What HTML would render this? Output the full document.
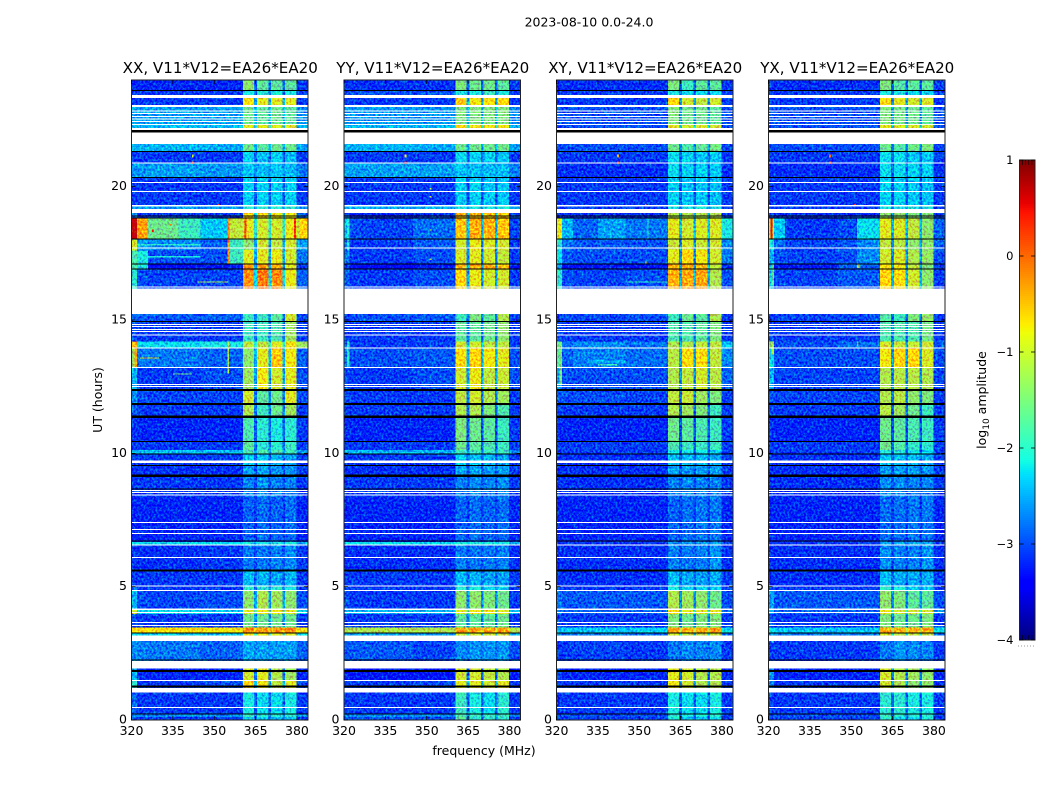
<!DOCTYPE html>
<html lang="en">
<head>
<meta charset="utf-8">
<title>2023-08-10 0.0-24.0</title>
<style>
html,body{margin:0;padding:0;background:#fff;}
svg{display:block;}
text{font-family:"DejaVu Sans","Liberation Sans",sans-serif;fill:#000;}
</style>
</head>
<body>
<svg id="chart" xmlns="http://www.w3.org/2000/svg" width="1050" height="800" viewBox="0 0 1050 800">
  <defs>
    <filter id="channel-noise" x="0" y="0" width="1" height="1" color-interpolation-filters="sRGB">
      <feTurbulence type="fractalNoise" baseFrequency="0.5 0.42" numOctaves="2" seed="7" result="n"/>
      <feColorMatrix in="n" type="matrix" values="0 0 0 0 .5  1.6 0 0 0 -.4  0 .8 0 0 .1  0 0 0 0 1" result="g"/>
      <feComposite in="SourceGraphic" in2="g" operator="arithmetic" k1="0" k2="1" k3="0.8" k4="-0.4"/>
    </filter>
  </defs>
  <rect x="0" y="0" width="1050" height="800" fill="#fff"/>
  <text x="589" y="26.5" font-size="12.5" text-anchor="middle">2023-08-10 0.0-24.0</text>
  <text x="484" y="755" font-size="12.5" text-anchor="middle">frequency (MHz)</text>
  <text x="0" y="0" font-size="12.5" text-anchor="middle" transform="translate(102,400) rotate(-90)">UT (hours)</text>
  <text x="0" y="0" font-size="12.5" text-anchor="middle" transform="translate(986,400) rotate(-90)">log<tspan font-size="9" dy="3">10</tspan><tspan dy="-3"> amplitude</tspan></text>
  <g id="panels"></g>
  <g id="colorbar"></g>
</svg>
<script>
// Axis data
const freqTicks = [320, 335, 350, 365, 380];
const hourTicks = [0, 5, 10, 15, 20];
const colorbarTicks = [1, 0, -1, -2, -3, -4];
const colorbarMinorTicks = [0.99, -3.99];
const panelTitles = ['XX, V11*V12=EA26*EA20', 'YY, V11*V12=EA26*EA20', 'XY, V11*V12=EA26*EA20', 'YX, V11*V12=EA26*EA20'];

// Frequency column edges (MHz): left edge, low band x3, four pass bands split by notches, right band
const freqEdges = [320, 322, 326, 345, 360.5, 364.4, 365.5, 369.6, 370.6, 374.7, 375.7, 379.8, 384];
// Time band edges (UT hours)
const bandEdges = [0,.12,.24,1.2,1.5,2.21,3.16,3.27,3.46,3.98,4.17,4.84,5.02,5.6,6.56,6.68,8.36,9.16,9.55,9.96,10.12,10.44,11.37,11.85,12.37,13.2,13.95,14.2,14.93,16.18,16.91,17.1,17.63,18.04,18.83,19.09,19.25,20.34,20.89,21.32,22.2,22.31,23.06,23.44,23.6,24];

// Flagged or missing integrations, same in all panels (UT hours)
const whiteGaps = [[1.024,1.2],[1.939,2.213],[2.963,3.161],[4.125,4.174],[9.64,9.73],[15.225,16.181],[19.013,19.163],[19.249,19.313],[21.6,22.024],[22.125,22.2],[22.987,23.062],[23.325,23.438]];
const whiteLines = [.476,1.489,3.536,3.664,4.024,4.864,5.025,6.101,6.563,7.001,7.151,7.414,8.438,8.524,8.599,12.499,12.574,13.226,13.95,14.438,14.561,14.651,14.756,14.839,16.238,17.7,19.826,20.149,20.888,22.324,22.451,22.538,22.639,22.736,22.838];
const blackLines = [.225,2.25,3.26,6.71,8.66,9.55,9.975,10.44,14.94,16.91,17.1,18.04,18.825,18.9,20.34,21.32,23.61];
const blackThickLines = [1.25,1.84,5.6,9.16,11.37,11.85,12.37];
const blackGaps = [[22.024,22.125]];

// log10 amplitude per band: edge, low1, low2, low3, pass1, pass2, pass3, pass4, notch, right
const xxCells = [
[-3,-3,-3,-3,-2.2,-2.3,-2.4,-2.3,-2.8,-3],
[-2.6,-2.6,-2.6,-2.6,-1.9,-2,-2,-2,-2.6,-2.6],
[-2.8,-3,-3,-3,-2.1,-2.2,-2.2,-2.1,-2.8,-3],
[-2,-3,-3,-2.9,-.7,-.8,-1.1,-.9,-2.4,-2.9],
[-2.4,-3.1,-3.1,-3.1,-1,-.9,-1.2,-1.3,-2.7,-3.1],
[-2.6,-2.65,-2.7,-2.8,-2.45,-2.5,-2.5,-2.5,-2.6,-2.8],
[-2.2,-2.2,-2.2,-2.3,-.8,-.8,-.9,-.9,-1.8,-2.2],
[-.7,-.7,-.75,-.8,-.3,-.35,-.35,-.3,-.6,-.8],
[-2.9,-3,-3,-3,-1.6,-1.6,-1.6,-1.6,-2.6,-3],
[-1,-2.3,-2.2,-2.3,-.9,-.8,-.8,-.9,-1.7,-2.2],
[-2.4,-2.9,-2.95,-2.9,-1.4,-1.2,-1.3,-1.4,-2.5,-2.9],
[-2.7,-3,-3,-3,-2,-2,-2,-2.1,-2.7,-3],
[-3,-3,-3,-3,-2.35,-2.4,-2.5,-2.4,-2.8,-3],
[-3,-3.05,-3.05,-3,-2.7,-2.7,-2.65,-2.6,-2.9,-3],
[-2.2,-2.2,-2.2,-2.25,-2.1,-2.1,-2.1,-2.1,-2.3,-2.4],
[-3.1,-3.1,-3.1,-3.1,-2.8,-2.75,-2.8,-2.75,-3,-3.1],
[-3,-3,-3,-3,-2.65,-2.55,-2.65,-2.65,-2.9,-3],
[-3.05,-3.05,-3.05,-3.05,-2.45,-2.45,-2.55,-2.55,-2.9,-3],
[-3,-3,-3,-3,-2.25,-2.3,-2.4,-2.5,-2.8,-3],
[-2.35,-2.35,-2.35,-2.35,-1.8,-1.8,-1.8,-1.9,-2.4,-2.5],
[-3,-3,-3,-3,-1.7,-2,-2,-1.9,-2.7,-3],
[-3,-3.1,-3.1,-3.1,-1.8,-2,-2.1,-2,-2.8,-3],
[-2.8,-3,-3,-3,-1.2,-1.9,-1.6,-1.3,-2.7,-3],
[-2.6,-2.9,-2.95,-2.95,-1,-1.7,-1.6,-.9,-2.7,-2.9],
[-2.4,-3,-3,-2.9,-1.3,-.8,-1,-.9,-2.5,-2.9],
[-1.4,-2.7,-2.7,-2.8,-1.4,-.9,-.6,-.8,-2.4,-2.8],
[-.7,-2.2,-2.2,-2.1,-1.1,-1.1,-.9,-.8,-2,-1.3],
[-2.9,-3,-3,-3,-1.9,-1.9,-1.8,-1.3,-2.7,-3],
[-2.8,-2.8,-2.85,-2.8,-1.9,-1.9,-1.7,-1,-2.7,-2.9],
[-2,-2.9,-2.95,-2.95,-.3,-.2,-.3,-.85,-2.2,-2.8],
[-1.8,-3.2,-3.3,-3.2,-.4,-.35,-.5,-.9,-2.4,-3],
[-1.8,-2.8,-2.9,-2.9,-.9,-.9,-.85,-1,-2.5,-2.7],
[-1.5,-2.5,-2.6,-2.8,-1.4,-1,-1.1,-1,-2.5,-2.5],
[.7,-.4,-1.9,-2.3,-.9,-1,-1,-.85,-2,-1.1],
[-2.6,-3,-3,-3,-.7,-.7,-.8,-.8,-2.2,-2.8],
[-2.5,-2.5,-2.5,-2.5,-2,-2,-2,-2,-2.5,-2.6],
[-3,-3,-3,-3,-2.25,-2.25,-2.25,-2.25,-2.9,-3],
[-2.55,-2.55,-2.5,-2.55,-2.3,-2.35,-2.3,-2.35,-2.55,-2.7],
[-3,-3,-3,-3,-2.25,-2.35,-2.25,-2.35,-2.8,-3],
[-2.4,-2.4,-2.4,-2.45,-1.6,-1.7,-1.6,-1.6,-2.4,-2.5],
[-2.35,-2.35,-2.35,-2.35,-.9,-.9,-.9,-.9,-2,-2.4],
[-2.5,-2.5,-2.5,-2.5,-1.6,-1.7,-1.6,-1.7,-2.4,-2.6],
[-3,-3,-3,-3,-.75,-.9,-.9,-.9,-2.4,-3],
[-3,-3,-3,-3,-2.1,-2.05,-2.1,-2.1,-2.7,-3],
[-3.1,-3.1,-3.1,-3.1,-1.4,-1.7,-1.7,-1.7,-2.8,-3]
];
const yyCells = [
[-2.9,-2.9,-2.9,-2.9,-1.7,-2,-2,-2,-2.8,-3],
[-2.6,-2.6,-2.6,-2.6,-1.8,-1.9,-1.9,-1.9,-2.6,-2.7],
[-3,-3,-3,-3,-1.9,-2.1,-2.2,-2,-2.8,-3],
[-3,-3,-3,-2.9,-.9,-.9,-1,-.9,-2.4,-3],
[-3.1,-3.2,-3.2,-3.2,-1,-1,-1.1,-1.2,-2.8,-3.2],
[-2.85,-2.85,-2.85,-2.95,-2.6,-2.55,-2.55,-2.55,-2.75,-2.9],
[-2.5,-2.5,-2.5,-2.5,-1,-1,-1,-1,-2,-2.4],
[-1.2,-1.2,-1.2,-1.2,-.4,-.4,-.45,-.4,-.9,-1.2],
[-3,-3,-3,-3,-1.7,-1.7,-1.7,-1.6,-2.7,-3],
[-2.4,-2.4,-2.4,-2.4,-.9,-.8,-.8,-.9,-1.8,-2.4],
[-2.9,-3,-3,-3,-1.4,-1.4,-1.5,-1.6,-2.6,-3],
[-2.9,-3,-3,-3,-2,-2.1,-2.2,-2.2,-2.7,-3],
[-3,-3,-3,-3,-2.35,-2.4,-2.5,-2.5,-2.8,-3],
[-3.05,-3.05,-3.05,-3.05,-2.65,-2.7,-2.7,-2.65,-2.9,-3.05],
[-2.2,-2.2,-2.2,-2.25,-2.1,-2.1,-2.1,-2.1,-2.3,-2.4],
[-3.1,-3.1,-3.1,-3.1,-2.8,-2.75,-2.8,-2.75,-3,-3.1],
[-3,-3,-3,-3,-2.65,-2.6,-2.65,-2.6,-2.9,-3],
[-3.05,-3.05,-3.05,-3.05,-2.45,-2.45,-2.5,-2.5,-2.9,-3],
[-3,-3,-3,-3,-2.25,-2.3,-2.4,-2.5,-2.8,-3],
[-2.4,-2.4,-2.4,-2.4,-1.9,-1.9,-1.9,-1.9,-2.5,-2.6],
[-3,-3,-3,-3,-1.6,-1.7,-1.8,-1.9,-2.8,-3],
[-3.05,-3.1,-3.1,-3.1,-1.5,-1.6,-1.7,-1.9,-2.9,-3],
[-3,-3,-3,-3,-1.2,-1.2,-1.5,-1.8,-2.8,-3],
[-2.9,-3,-3,-3,-1.1,-1,-1.2,-1.3,-2.7,-3],
[-2.9,-3,-3,-2.9,-1,-.85,-1.1,-1.05,-2.5,-2.9],
[-2.7,-2.9,-2.9,-2.85,-.75,-.7,-.8,-.9,-2.4,-2.9],
[-2.7,-3,-3,-2.95,-1,-1,-1.1,-1.1,-2.4,-3],
[-3,-3,-3,-3,-1.7,-1.7,-1.6,-1.4,-2.7,-3],
[-2.95,-2.9,-2.9,-2.85,-1.9,-1.5,-1.7,-1.2,-2.7,-3],
[-2.8,-3,-3,-2.9,-.7,-.85,-1,-1,-2.5,-3],
[-3,-3.2,-3.3,-3.2,-.5,-.5,-.5,-.6,-2.5,-3.2],
[-2.7,-3,-3,-2.9,-.95,-.9,-1,-1.1,-2.6,-3],
[-2.7,-3,-3,-2.85,-1,-.85,-.95,-1,-2.6,-3],
[-2.3,-2.9,-2.95,-2.75,-.6,-.5,-.5,-.6,-2.4,-2.95],
[-3,-3.1,-3.1,-3,-.5,-.5,-.6,-.7,-2.4,-3],
[-2.4,-2.4,-2.4,-2.4,-2.1,-2.1,-2.1,-2.1,-2.4,-2.5],
[-3,-3,-3,-3,-2.25,-2.25,-2.3,-2.3,-2.9,-3],
[-2.5,-2.5,-2.5,-2.5,-2.3,-2.35,-2.35,-2.35,-2.5,-2.65],
[-3,-3,-3,-3,-2.2,-2.25,-2.25,-2.3,-2.8,-3],
[-2.4,-2.4,-2.4,-2.45,-1.6,-1.6,-1.6,-1.6,-2.4,-2.5],
[-2.4,-2.4,-2.4,-2.4,-.7,-.8,-.8,-.8,-2,-2.4],
[-2.55,-2.55,-2.55,-2.55,-1.5,-1.5,-1.5,-1.5,-2.4,-2.6],
[-3,-3,-3,-3,-.65,-.8,-.75,-.7,-2.4,-3],
[-2.9,-2.9,-2.9,-2.9,-2.1,-2.1,-1.9,-2.1,-2.7,-3],
[-3.05,-3.05,-3.05,-3.05,-1.5,-1.6,-1.6,-1.7,-2.8,-3]
];
const xyCells = [
[-3,-3,-3,-3,-2.1,-2.3,-2.3,-2.2,-2.8,-3],
[-2.9,-2.9,-2.9,-2.9,-2,-2.1,-2.1,-2,-2.8,-3],
[-3,-3,-3,-3,-2.1,-2.2,-2.2,-2.1,-2.8,-3],
[-2.9,-3,-3,-3,-.8,-1,-1.2,-1.2,-2.5,-3],
[-2.9,-3.1,-3.1,-3.1,-.9,-1,-1.2,-1.2,-2.8,-3.1],
[-3,-3,-2.95,-3,-2.7,-2.6,-2.65,-2.6,-2.8,-3],
[-2.7,-2.7,-2.7,-2.7,-1,-1.1,-1.1,-1.1,-2.2,-2.7],
[-2.3,-2.3,-2.3,-2.3,-.4,-.5,-.5,-.4,-1.1,-2.2],
[-2.95,-3,-3,-3,-1.5,-1.6,-1.5,-1.5,-2.7,-3],
[-2.6,-2.8,-2.8,-2.8,-.75,-.9,-.9,-.9,-2,-2.7],
[-2.7,-2.85,-2.85,-2.85,-1.2,-1.3,-1.4,-1.6,-2.6,-2.9],
[-2.9,-3,-3,-3,-2.1,-2.2,-2.2,-2.3,-2.7,-3],
[-3.05,-3.05,-3.05,-3.05,-2.35,-2.45,-2.5,-2.45,-2.8,-3],
[-3.05,-3.05,-3.05,-3.05,-2.65,-2.7,-2.65,-2.55,-2.9,-3.05],
[-3,-3,-3,-3,-2.5,-2.5,-2.5,-2.5,-2.8,-3],
[-3.1,-3.1,-3.1,-3.1,-2.8,-2.75,-2.7,-2.7,-3,-3.1],
[-3.05,-3.05,-3.05,-3.05,-2.65,-2.6,-2.65,-2.65,-2.9,-3],
[-3.05,-3.05,-3.05,-3.05,-2.5,-2.55,-2.5,-2.5,-2.9,-3],
[-3.05,-3.05,-3.05,-3.05,-2.35,-2.35,-2.35,-2.45,-2.8,-3],
[-3,-3,-3,-3,-2.15,-2.15,-2.15,-2.25,-2.8,-3],
[-3,-3,-3,-3,-1.8,-1.9,-1.9,-1.9,-2.8,-3],
[-3.05,-3.1,-3.1,-3.1,-1.6,-1.7,-1.8,-1.9,-2.9,-3],
[-2.95,-3,-3,-3,-1.2,-1.3,-1.5,-1.9,-2.8,-3],
[-2.85,-2.9,-2.9,-2.95,-1.1,-1.05,-1.3,-1.5,-2.7,-3],
[-2.5,-2.9,-2.9,-2.9,-1.2,-1.1,-1,-1.15,-2.6,-2.8],
[-1.7,-2.8,-2.65,-2.75,-1.15,-.75,-.75,-1.1,-2.5,-2.6],
[-1.6,-2.7,-2.6,-2.7,-1.2,-1.2,-1.1,-1.1,-2.5,-2.3],
[-2.9,-3,-3,-3,-1.8,-1.8,-1.7,-1.5,-2.7,-3],
[-3,-2.9,-2.95,-2.9,-1.9,-1.6,-1.7,-1.2,-2.8,-3],
[-2,-2.9,-2.95,-2.9,-.5,-.45,-.45,-1.2,-2.4,-2.9],
[-2.5,-3.2,-3.2,-3.2,-.45,-.45,-.55,-1.1,-2.5,-3],
[-2.2,-2.85,-2.9,-2.9,-.9,-.7,-.8,-1,-2.6,-2.7],
[-2,-2.7,-2.85,-2.9,-1.05,-.95,-1.05,-1,-2.6,-2.6],
[-.9,-2.4,-2.8,-2.7,-.9,-1,-.95,-.95,-2.3,-2.1],
[-3,-3.05,-3.05,-3.05,-1.2,-1.2,-1.2,-1.2,-2.5,-2.95],
[-3,-3,-3,-3,-2.1,-2.1,-2.1,-2.1,-2.6,-3],
[-3,-3,-3,-3,-2.25,-2.3,-2.3,-2.35,-2.9,-3],
[-3.05,-3.05,-3.05,-3.05,-2.2,-2.25,-2.25,-2.3,-2.8,-3.05],
[-3,-3,-3,-3,-2.2,-2.25,-2.3,-2.3,-2.8,-3],
[-2.9,-2.9,-2.9,-2.9,-1.6,-1.8,-1.65,-1.55,-2.6,-2.95],
[-2.9,-2.9,-2.9,-2.9,-.9,-1,-.95,-1,-2.2,-2.9],
[-2.85,-2.9,-2.9,-2.9,-1.5,-1.6,-1.6,-1.7,-2.6,-2.9],
[-3,-3,-3,-3,-.7,-1,-1.1,-1,-2.5,-3],
[-3,-3,-3,-3,-2.1,-2.2,-2.2,-2.2,-2.8,-3],
[-3.05,-3.05,-3.05,-3.05,-1.5,-1.9,-1.7,-1.7,-2.8,-3]
];
const yxCells = [
[-3,-3,-3,-3,-2,-2.2,-2.2,-2.1,-2.8,-3],
[-2.9,-2.9,-2.9,-2.9,-1.9,-2,-2,-2,-2.8,-3],
[-3,-3,-3,-3,-2,-2,-2.1,-2.1,-2.8,-3],
[-2.6,-3,-3,-3,-1,-1.2,-1.4,-1.4,-2.5,-3],
[-2.6,-3.1,-3.1,-3.1,-1,-1.2,-1.3,-1.4,-2.7,-3.1],
[-3,-3,-3,-3,-2.7,-2.55,-2.6,-2.65,-2.8,-3],
[-2.6,-2.7,-2.7,-2.7,-1,-1.1,-1.1,-1.1,-2.2,-2.7],
[-2.2,-2.3,-2.3,-2.3,-.45,-.5,-.5,-.45,-1.1,-2.2],
[-2.9,-3,-3,-3,-1.5,-1.6,-1.6,-1.5,-2.7,-3],
[-2.4,-2.8,-2.8,-2.8,-.85,-1,-1,-1,-2,-2.6],
[-2.5,-2.85,-2.85,-2.85,-1.4,-1.5,-1.7,-1.7,-2.6,-2.9],
[-2.8,-3,-3,-3,-2,-2.1,-2.25,-2.3,-2.7,-3],
[-3.05,-3.05,-3.05,-3.05,-2.35,-2.45,-2.45,-2.45,-2.8,-3],
[-3.05,-3.05,-3.05,-3.05,-2.6,-2.65,-2.65,-2.55,-2.9,-3.05],
[-3,-3,-3,-3,-2.5,-2.5,-2.5,-2.5,-2.8,-3],
[-3.1,-3.1,-3.1,-3.1,-2.75,-2.75,-2.7,-2.7,-3,-3.1],
[-3.05,-3.05,-3.05,-3.05,-2.6,-2.6,-2.65,-2.65,-2.9,-3],
[-3.05,-3.05,-3.05,-3.05,-2.5,-2.5,-2.5,-2.55,-2.9,-3],
[-3.05,-3.05,-3.05,-3.05,-2.3,-2.35,-2.35,-2.45,-2.8,-3],
[-3,-3,-3,-3,-2.05,-2.05,-2.15,-2.25,-2.8,-3],
[-3,-3,-3,-3,-1.6,-1.75,-1.95,-2,-2.8,-3],
[-3.05,-3.1,-3.1,-3.1,-1.6,-1.7,-1.8,-1.9,-2.9,-3],
[-2.95,-3,-3,-3,-1.15,-1.3,-1.6,-1.9,-2.8,-3],
[-2.9,-2.95,-2.95,-2.95,-1.2,-1.15,-1.4,-1.5,-2.7,-3],
[-2.4,-2.95,-2.95,-2.95,-1.2,-1.15,-1.15,-1.2,-2.6,-2.95],
[-2.2,-2.9,-2.9,-2.9,-.8,-.7,-.7,-.95,-2.5,-2.9],
[-1.5,-2.9,-2.9,-2.75,-.95,-1.05,-1.05,-1,-2.5,-2.85],
[-2.95,-3,-3,-3,-1.8,-1.8,-1.8,-1.55,-2.7,-3],
[-3,-2.95,-2.95,-2.9,-1.75,-1.9,-1.5,-1.35,-2.8,-3],
[-2.3,-2.95,-2.95,-2.85,-.7,-.75,-1,-1.4,-2.4,-3],
[-2.5,-3.2,-3.2,-2.8,-.75,-.8,-1.1,-1.5,-2.5,-3],
[-2.4,-2.9,-2.95,-2.9,-1,-.95,-1.2,-1.35,-2.6,-2.9],
[-2.1,-2.75,-2.95,-2.85,-1.1,-1.15,-1.4,-1.4,-2.6,-2.8],
[-1,-2.3,-3,-2.9,-.9,-.95,-1.1,-1.4,-2.4,-2.8],
[-2.9,-3.05,-3.05,-3.05,-1.4,-1.4,-1.5,-1.5,-2.6,-2.95],
[-3,-3,-3,-3,-2.1,-2.1,-2.1,-2.1,-2.6,-3],
[-3,-3,-3,-3,-2.25,-2.25,-2.3,-2.35,-2.9,-3],
[-3.05,-3.05,-3.05,-3.05,-2.2,-2.2,-2.25,-2.25,-2.8,-3.05],
[-3,-3,-3,-3,-2.2,-2.2,-2.3,-2.3,-2.8,-3],
[-2.9,-2.9,-2.9,-2.9,-1.6,-1.75,-1.6,-1.5,-2.6,-2.95],
[-2.9,-2.9,-2.9,-2.9,-.9,-.95,-.95,-1,-2.2,-2.9],
[-2.85,-2.9,-2.9,-2.9,-1.5,-1.55,-1.6,-1.7,-2.6,-2.9],
[-3,-3,-3,-3,-.75,-.9,-1,-.95,-2.5,-3],
[-3,-3,-3,-3,-2.1,-2.1,-2.2,-2.2,-2.8,-3],
[-3.05,-3.05,-3.05,-3.05,-1.5,-1.75,-1.7,-1.7,-2.8,-3]
];

// Localised interference: freq start, freq end, hour start, hour end, log10 amplitude
const xxPatches = [
[355,360.5,18.04,18.83,-1.1],[355,360.5,17.1,18.04,-1.9],[326,337,18.04,18.83,-1.6],[381,384,18.04,18.83,-.7],[320,322,17.6,18,-1],
[354.8,355.5,17.1,18.83,-.2],[361,361.7,18.04,18.83,.1],[379,379.7,18.04,18.83,.2],
[321,322,13.2,14.2,-.4],[354.8,355.4,13.0,14.2,-1.2],[322,326,16.9,17.6,-2.1],
[342,342.5,20.85,20.95,.3],[340,346,20.88,20.91,-1.2],[342,342.5,21.1,21.2,-1],
[351.2,351.9,19.3,19.35,.4],[327.5,328.2,18.3,18.4,.2],[334,334.7,18.55,18.6,-.3],
[323,330,13.55,13.6,-1],[335,342,12.95,13,-1.6],[344,355,16.4,16.45,-1.3],[322,345,17.35,17.4,-2.1],[322,345,17.8,17.85,-2]
];
const yyPatches = [
[342,342.7,20.85,20.95,.3],[342,342.7,21.1,21.2,-.8],[351,351.7,19.6,19.65,-1],[351,351.7,19.9,19.95,-1],
[321,322,17.6,18.83,-2],[321,322,13.2,14.2,-2],[351,351.7,18.35,18.4,-1.2],[351,351.7,17.25,17.3,-1.2]
];
const xyPatches = [
[342,342.7,20.85,20.95,.3],[337,347,20.88,20.91,-1.4],[342,342.7,21.1,21.2,-.4],[352,352.6,19.3,19.35,-.3],
[321,322,18.04,18.83,-.8],[353,353.4,18.04,18.83,-2],[335,345,18.04,18.83,-2.5],[352,352.6,17.1,17.2,-.6],
[345,360.5,16.4,16.45,-2],[332,345,13.4,13.5,-2.4],[321,322,12.6,14.2,-1.5],[335,342,13.3,13.35,-1.9]
];
const yxPatches = [
[342,342.7,20.85,20.95,.3],[338,346,20.88,20.91,-1.4],[342,342.7,21.1,21.2,-.4],[351,351.7,19.3,19.35,.1],
[320.8,321.5,18.04,18.83,.5],[352,360.5,18.04,18.83,-2.2],[352,360.5,17.1,18.04,-2.6],[352,353,16.95,17.1,-1.2],
[321,322,16.3,17.1,-1.7],[321,322,13.7,14.2,-1.2],[352,352.6,14,14.2,-1.8],[321,322,2.9,3.1,-2]
];

const panelCells = [xxCells, yyCells, xyCells, yxCells];
const panelPatches = [xxPatches, yyPatches, xyPatches, yxPatches];
const panelKeys = ['xx', 'yy', 'xy', 'yx'];
// Which row value each frequency column shows
const columnValue = [0, 1, 2, 3, 4, 8, 5, 8, 6, 8, 7, 9];

const SVGNS = 'http://www.w3.org/2000/svg';
const panelLefts = [131.5, 344, 556.5, 768.5];
const panelWidth = 176.5;
const plotTop = 80;
const plotBottom = 720;
const freqMin = 320;
const freqMax = 384;
const hourMax = 24;

function scaleHour(h) { return plotBottom - (h / hourMax) * (plotBottom - plotTop); }
function scaleFreq(f, left) { return left + ((f - freqMin) / (freqMax - freqMin)) * panelWidth; }
function jet(v) {
  const t = Math.max(0, Math.min(1, (v + 4) / 5));
  const r = t < .35 ? 0 : t < .66 ? (t - .35) / .31 : t < .89 ? 1 : 1 - (t - .89) / .11 * .5;
  const g = t < .125 ? 0 : t < .375 ? (t - .125) / .25 : t < .64 ? 1 : t < .91 ? 1 - (t - .64) / .27 : 0;
  const b = t < .11 ? .5 + t / .11 * .5 : t < .34 ? 1 : t < .65 ? 1 - (t - .34) / .31 : 0;
  return 'rgb(' + Math.round(r * 255) + ',' + Math.round(g * 255) + ',' + Math.round(b * 255) + ')';
}
function mk(tag, attrs, parent) {
  const el = document.createElementNS(SVGNS, tag);
  for (const k in attrs) el.setAttribute(k, attrs[k]);
  parent.appendChild(el);
  return el;
}

const panelsRoot = document.getElementById('panels');
panelKeys.forEach(function (key, p) {
  const left = panelLefts[p];
  const cx = left + panelWidth / 2;
  const g = mk('g', {}, panelsRoot);
  
  

  const title = mk('text', { x: cx + 0.5, y: 73, 'font-size': 15.1, 'text-anchor': 'middle' }, g);
  
  
  title.textContent = panelTitles[p];

  const heat = mk('g', { filter: 'url(#channel-noise)', 'shape-rendering': 'crispEdges' }, g);
  
  
  panelCells[p].forEach(function (row, b) {
    const y1 = scaleHour(bandEdges[b + 1]);
    const y0 = scaleHour(bandEdges[b]);
    columnValue.forEach(function (src, c) {
      const x0 = scaleFreq(freqEdges[c], left);
      const x1 = scaleFreq(freqEdges[c + 1], left);
      const cell = mk('rect', { x: x0, y: y1, width: x1 - x0, height: y0 - y1, fill: jet(row[src]) }, heat);
      
      
    });
  });
  panelPatches[p].forEach(function (pt) {
    const x0 = scaleFreq(pt[0], left);
    const x1 = scaleFreq(pt[1], left);
    const y1 = scaleHour(pt[3]);
    const y0 = scaleHour(pt[2]);
    const patch = mk('rect', { x: x0, y: y1, width: x1 - x0, height: y0 - y1, fill: jet(pt[4]) }, heat);
    
    
  });

  const masks = mk('g', { 'shape-rendering': 'crispEdges' }, g);
  
  
  function band(lo, hi, fill, name) {
    const r = mk('rect', { x: left, y: scaleHour(hi), width: panelWidth, height: scaleHour(lo) - scaleHour(hi), fill: fill }, masks);
    
    
  }
  whiteGaps.forEach(function (w) { band(w[0], w[1], '#fff', 'flagged-gap'); });
  blackGaps.forEach(function (w) { band(w[0], w[1], '#000', 'black-gap'); });
  whiteLines.forEach(function (h) { band(h - .02, h + .02, '#fff', 'flagged-line'); });
  blackLines.forEach(function (h) { band(h - .02, h + .02, '#000', 'black-line'); });
  blackThickLines.forEach(function (h) { band(h - .04, h + .04, '#000', 'black-line-thick'); });

  const frame = mk('rect', { x: left, y: plotTop, width: panelWidth, height: plotBottom - plotTop, fill: 'none', stroke: '#222', 'stroke-width': 1 }, g);
  
  

  freqTicks.forEach(function (f) {
    const x = scaleFreq(f, left);
    const t1 = mk('line', { x1: x, x2: x, y1: plotBottom, y2: plotBottom - 4, stroke: '#000', 'stroke-width': .8 }, g);
    
    
    const t2 = mk('line', { x1: x, x2: x, y1: plotTop, y2: plotTop + 4, stroke: '#000', 'stroke-width': .8 }, g);
    
    
    const lab = mk('text', { x: x, y: 735, 'font-size': 12.5, 'text-anchor': 'middle' }, g);
    
    
    lab.textContent = String(f);
  });
  hourTicks.forEach(function (h) {
    const y = scaleHour(h);
    const t1 = mk('line', { x1: left, x2: left + 4, y1: y, y2: y, stroke: '#000', 'stroke-width': .8 }, g);
    
    
    const t2 = mk('line', { x1: left + panelWidth, x2: left + panelWidth - 4, y1: y, y2: y, stroke: '#000', 'stroke-width': .8 }, g);
    
    
    const lab = mk('text', { x: left - 4.5, y: y + 3.5, 'font-size': 12.5, 'text-anchor': 'end' }, g);
    
    
    lab.textContent = String(h);
  });
});

// Colorbar
const cbRoot = document.getElementById('colorbar');
const cbLeft = 1019.5;
const cbWidth = 15.5;
const cbTop = 160;
const cbBottom = 640;
const cbMin = -4;
const cbMax = 1;
function scaleLevel(v) { return cbBottom - ((v - cbMin) / (cbMax - cbMin)) * (cbBottom - cbTop); }
const cbGrad = mk('g', { 'shape-rendering': 'crispEdges' }, cbRoot);


for (let px = cbTop; px < cbBottom; px += 2) {
  const level = cbMax - ((px + 1 - cbTop) / (cbBottom - cbTop)) * (cbMax - cbMin);
  const s = mk('rect', { x: cbLeft, y: px, width: cbWidth, height: 2, fill: jet(level) }, cbGrad);
  
  
}
const cbFrame = mk('rect', { x: cbLeft, y: cbTop, width: cbWidth, height: cbBottom - cbTop, fill: 'none', stroke: '#222', 'stroke-width': 1 }, cbRoot);


colorbarTicks.forEach(function (v) {
  const y = scaleLevel(v);
  const t1 = mk('line', { x1: cbLeft, x2: cbLeft + 4, y1: y, y2: y, stroke: '#000', 'stroke-width': .8 }, cbRoot);
  
  
  const t2 = mk('line', { x1: cbLeft + cbWidth, x2: cbLeft + cbWidth - 4, y1: y, y2: y, stroke: '#000', 'stroke-width': .8 }, cbRoot);
  
  
  const lab = mk('text', { x: 1013.5, y: y + 4, 'font-size': 11.5, 'text-anchor': 'end' }, cbRoot);
  
  
  lab.textContent = v < 0 ? '\u2212' + Math.abs(v) : String(v);
});
colorbarMinorTicks.forEach(function (v) {
  const top = v > 0;
  for (let i = 1; i <= 4; i++) {
    const x = cbLeft + i * cbWidth / 5;
    const m = mk('line', { x1: x, x2: x, y1: top ? cbTop : cbBottom, y2: top ? cbTop + 5 : cbBottom - 5, stroke: '#000', 'stroke-width': .6 }, cbRoot);
    
    
  }
});
const cbDots = mk('line', { x1: 1018, x2: 1035, y1: 646, y2: 646, stroke: '#999', 'stroke-width': 1, 'stroke-dasharray': '1 2' }, cbRoot);


</script>
</body>
</html>
